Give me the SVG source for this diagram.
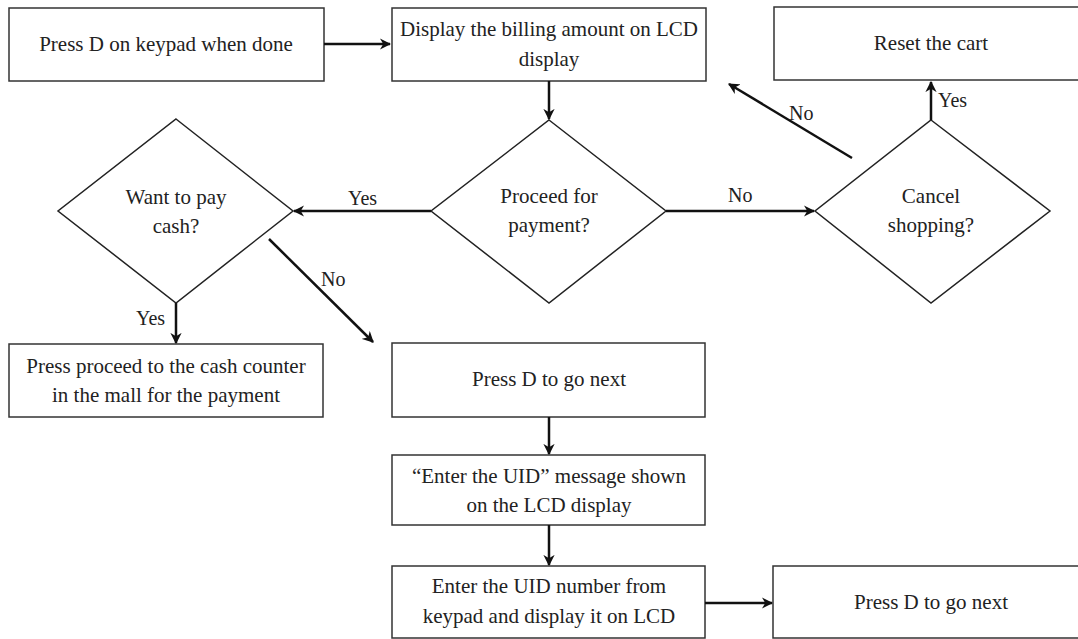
<svg xmlns="http://www.w3.org/2000/svg" width="1078" height="639" viewBox="0 0 1078 639">
  <defs>
    <style>
      .box { fill: #fff; stroke: #333; stroke-width: 1.5; }
      .dec { fill: #fff; stroke: #222; stroke-width: 1.5; }
      .t { font-family: "Liberation Serif", "DejaVu Serif", serif; font-size: 21px; fill: #222; text-anchor: middle; }
      .lbl { font-family: "Liberation Serif", "DejaVu Serif", serif; font-size: 20px; fill: #222; }
      .edge { fill: none; stroke: #111; stroke-width: 2.5; marker-end: url(#arrow); }
    </style>
    <marker id="arrow" viewBox="0 0 10 10" refX="9" refY="5" markerWidth="4.5" markerHeight="4.5" orient="auto">
      <path d="M0,0 L10,5 L0,10 L3,5 Z" fill="#111"/>
    </marker>
  </defs>
  <rect width="1078" height="639" fill="#fff"/>

  <g id="press-d-done">
    <rect class="box" x="9" y="8" width="315" height="73"/>
    <text class="t" x="166" y="51">Press D on keypad when done</text>
  </g>
  <g id="display-billing">
    <rect class="box" x="392" y="8" width="314" height="73"/>
    <text class="t" x="549" y="36">Display the billing amount on LCD</text>
    <text class="t" x="549" y="66">display</text>
  </g>
  <g id="reset-cart">
    <rect class="box" x="774" y="7" width="310" height="73"/>
    <text class="t" x="931" y="50">Reset the cart</text>
  </g>
  <g id="proceed-payment">
    <polygon class="dec" points="549,120 666,211 549,303 431,211"/>
    <text class="t" x="549" y="203">Proceed for</text>
    <text class="t" x="549" y="232">payment?</text>
  </g>
  <g id="pay-cash">
    <polygon class="dec" points="176,119 293,211 176,303 58,211"/>
    <text class="t" x="176" y="204">Want to pay</text>
    <text class="t" x="176" y="233">cash?</text>
  </g>
  <g id="cancel-shopping">
    <polygon class="dec" points="931,120 1050,211 931,303 815,211"/>
    <text class="t" x="931" y="203">Cancel</text>
    <text class="t" x="931" y="232">shopping?</text>
  </g>
  <g id="cash-counter">
    <rect class="box" x="9" y="344" width="314" height="73"/>
    <text class="t" x="166" y="373">Press proceed to the cash counter</text>
    <text class="t" x="166" y="402">in the mall for the payment</text>
  </g>
  <g id="press-d-next-1">
    <rect class="box" x="392" y="343" width="313" height="74"/>
    <text class="t" x="549" y="386">Press D to go next</text>
  </g>
  <g id="enter-uid-msg">
    <rect class="box" x="392" y="455" width="313" height="70"/>
    <text class="t" x="549" y="483">“Enter the UID” message shown</text>
    <text class="t" x="549" y="512">on the LCD display</text>
  </g>
  <g id="enter-uid-number">
    <rect class="box" x="392" y="566" width="313" height="72"/>
    <text class="t" x="549" y="593">Enter the UID number from</text>
    <text class="t" x="549" y="623">keypad and display it on LCD</text>
  </g>
  <g id="press-d-next-2">
    <rect class="box" x="773" y="566" width="310" height="72"/>
    <text class="t" x="931" y="609">Press D to go next</text>
  </g>

  <g id="connectors">
    <line class="edge" x1="324" y1="44" x2="390" y2="44"/>
    <line class="edge" x1="549" y1="81" x2="549" y2="119"/>
    <line class="edge" x1="431" y1="211" x2="294" y2="211"/>
    <line class="edge" x1="666" y1="211" x2="814" y2="211"/>
    <line class="edge" x1="931" y1="120" x2="931" y2="82"/>
    <line class="edge" x1="852" y1="158" x2="729" y2="84"/>
    <line class="edge" x1="176" y1="303" x2="176" y2="343"/>
    <line class="edge" x1="269" y1="239" x2="373" y2="342"/>
    <line class="edge" x1="549" y1="417" x2="549" y2="454"/>
    <line class="edge" x1="549" y1="525" x2="549" y2="565"/>
    <line class="edge" x1="705" y1="603" x2="772" y2="603"/>
  </g>

  <g id="edge-labels">
    <text class="lbl" x="348" y="205">Yes</text>
    <text class="lbl" x="728" y="202">No</text>
    <text class="lbl" x="938" y="107">Yes</text>
    <text class="lbl" x="789" y="120">No</text>
    <text class="lbl" x="136" y="325">Yes</text>
    <text class="lbl" x="321" y="286">No</text>
  </g>
</svg>
